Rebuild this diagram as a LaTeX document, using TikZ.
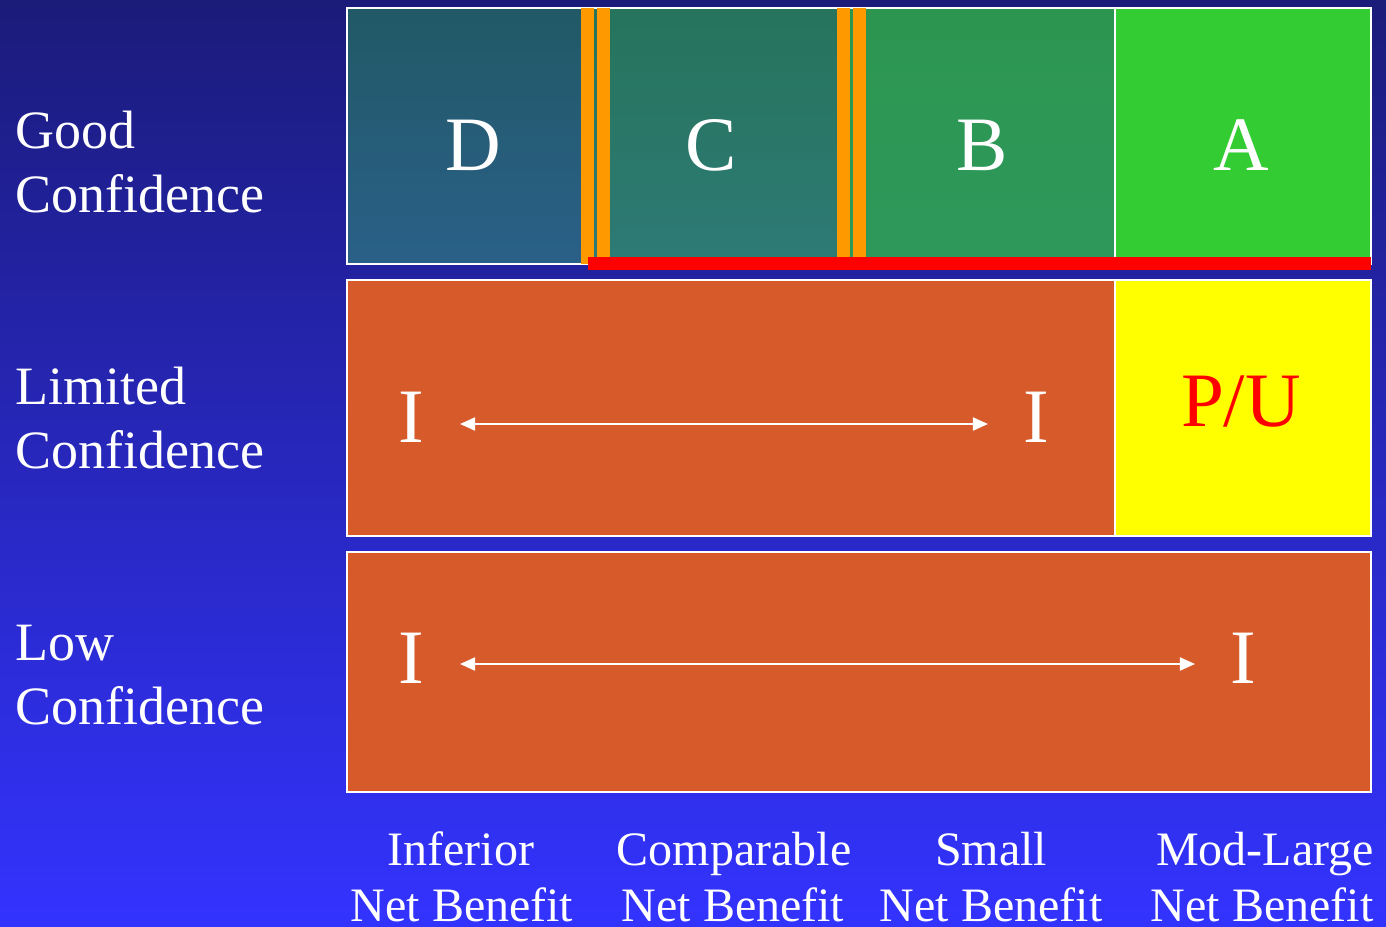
\documentclass[tikz,border=0pt]{standalone}
\usepackage{fontspec}
\setmainfont{Liberation Serif}
\usetikzlibrary{arrows.meta}
\definecolor{bgtop}{RGB}{27,27,122}
\definecolor{bgbot}{RGB}{51,51,255}
\definecolor{Dtop}{RGB}{34,89,102}
\definecolor{Dbot}{RGB}{42,96,136}
\definecolor{Ctop}{RGB}{38,116,92}
\definecolor{Cbot}{RGB}{46,122,118}
\definecolor{Btop}{RGB}{44,150,80}
\definecolor{Bbot}{RGB}{46,152,92}
\definecolor{Acol}{RGB}{51,204,51}
\definecolor{barorange}{RGB}{255,153,0}
\definecolor{rust}{RGB}{214,90,42}
\definecolor{puyellow}{RGB}{255,255,0}
\definecolor{pured}{RGB}{255,0,0}
\begin{document}
\begin{tikzpicture}[x=1pt,y=-1pt,
  cell/.style={draw=white,line width=2pt,inner sep=0pt,outer sep=0pt},
  big/.style={text=white,inner sep=0pt,anchor=base,font=\fontsize{77}{77}\selectfont},
  side/.style={text=white,inner sep=0pt,anchor=base west,font=\fontsize{54}{54}\selectfont},
  axis/.style={text=white,inner sep=0pt,anchor=base,font=\fontsize{48}{48}\selectfont},
  arr/.style={draw=white,line width=2pt,{Triangle[length=15pt,width=13pt]}-{Triangle[length=15pt,width=13pt]}},
  bar/.style={fill=barorange}]
% background
\fill[top color=bgtop,bottom color=bgbot] (0,0) rectangle (1386,926);
\useasboundingbox (0,0) rectangle (1386,926);

% top row cells
\node[cell,minimum width=240.5pt,minimum height=256pt,top color=Dtop,bottom color=Dbot] (D) at (467.25,136) {};
\node[cell,minimum width=256pt,minimum height=256pt,top color=Ctop,bottom color=Cbot] (C) at (715.5,136) {};
\node[cell,minimum width=271.5pt,minimum height=256pt,top color=Btop,bottom color=Bbot] (B) at (979.25,136) {};
\node[cell,minimum width=256pt,minimum height=256pt,fill=Acol] (A) at (1243,136) {};

% orange separators
\fill[bar] (581,8) rectangle (594,264);
\fill[bar] (597,8) rectangle (610,264);
\fill[bar] (837,8) rectangle (850,264);
\fill[bar] (853,8) rectangle (866,264);

% red underline
\fill[pured] (588,257) rectangle (1371,270);

% top letters
\node[big] (tD) at (473,170) {D};
\node[big] (tC) at (711,170) {C};
\node[big] (tB) at (982,170) {B};
\node[big] (tA) at (1241,170) {A};

% middle row
\node[cell,minimum width=768pt,minimum height=256pt,fill=rust] (Lim) at (731,408) {};
\node[cell,minimum width=256pt,minimum height=256pt,fill=puyellow] (PU) at (1243,408) {};
\node[big,text=pured] (tPU) at (1241,426) {P/U};
\node[big] (I1) at (411,442) {I};
\node[big] (I2) at (1036,442) {I};
\draw[arr,shorten <=36pt,shorten >=35pt] ([yshift=18pt]I1.base east) -- ([yshift=18pt]I2.base west);

% bottom row
\node[cell,minimum width=1024pt,minimum height=240pt,fill=rust] (Low) at (859,672) {};
\node[big] (I3) at (411,683) {I};
\node[big] (I4) at (1243,683) {I};
\draw[arr,shorten <=36pt,shorten >=35pt] ([yshift=19pt]I3.base east) -- ([yshift=19pt]I4.base west);

% side labels
\node[side] (g1) at (15,148) {Good};
\node[side] (g2) at (15,212) {Confidence};
\node[side] (l1) at (15,404) {Limited};
\node[side] (l2) at (15,468) {Confidence};
\node[side] (w1) at (15,660) {Low};
\node[side] (w2) at (15,724) {Confidence};

% axis labels
\node[axis] (x1a) at (461,865) {Inferior};
\node[axis] (x1b) at (462,921) {Net Benefit};
\node[axis] (x2a) at (734,865) {Comparable};
\node[axis] (x2b) at (733,921) {Net Benefit};
\node[axis] (x3a) at (991,865) {Small};
\node[axis] (x3b) at (991,921) {Net Benefit};
\node[axis] (x4a) at (1265,865) {Mod-Large};
\node[axis] (x4b) at (1262,921) {Net Benefit};
\end{tikzpicture}
\end{document}
